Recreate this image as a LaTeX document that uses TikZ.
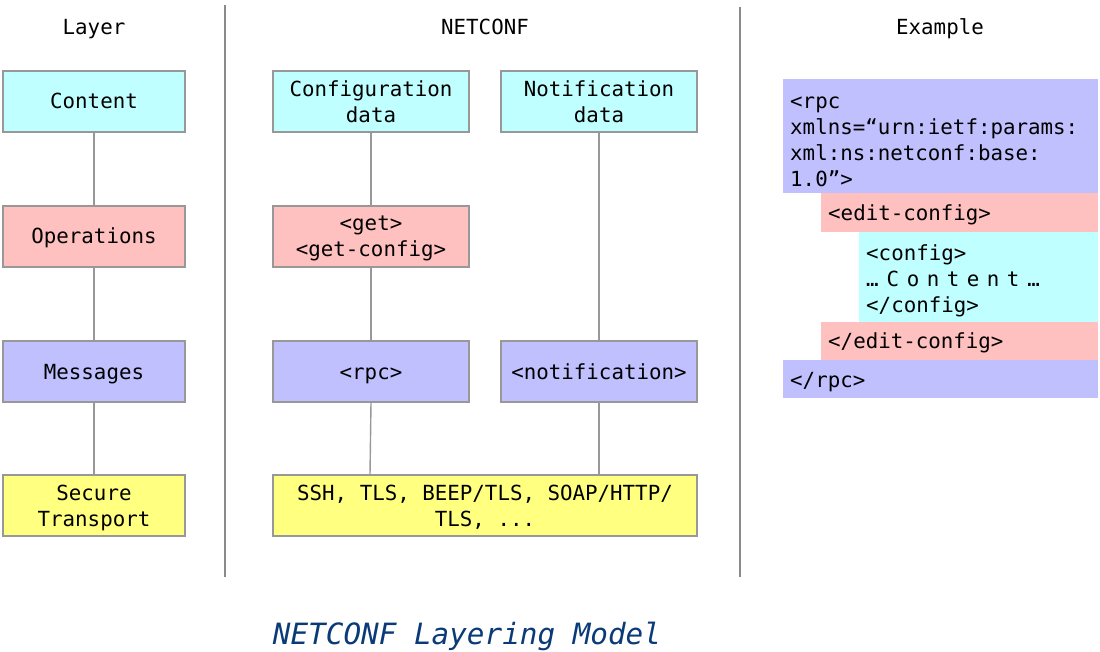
\documentclass[tikz,border=0pt]{standalone}
\usepackage{fontspec}
\setmainfont{DejaVu Sans Mono}
\definecolor{cyanfill}{HTML}{C0FFFF}
\definecolor{pinkfill}{HTML}{FFC0C0}
\definecolor{purplefill}{HTML}{C0C0FF}
\definecolor{yellowfill}{HTML}{FFFF80}
\definecolor{boxline}{HTML}{989898}
\definecolor{sepline}{HTML}{8A8A8A}
\definecolor{titleblue}{HTML}{0A3A78}
\newcommand{\nodepth}[1]{\raisebox{0pt}[\height][0pt]{#1}}
\begin{document}
\begin{tikzpicture}[x=1pt,y=-1pt,
  txt/.style={font=\fontsize{20.8}{26}\selectfont, text=black},
  one/.style={text height=15pt, text depth=0pt},
  layerbox/.style={txt, draw=boxline, line width=1.4pt, inner sep=0pt, align=center, minimum height=61pt},
  smallbox/.style={layerbox, minimum width=182pt},
  midbox/.style={layerbox, minimum width=196pt},
  exbox/.style={txt, inner xsep=7pt, inner ysep=0pt, align=left, anchor=north west},
  conn/.style={draw=boxline, line width=1.4pt},
  sep/.style={draw=sepline, line width=2.5pt}
]
\useasboundingbox (0,0) rectangle (1100,652);

% headers
\node[txt, one] (hlayer) at (94,27) {Layer};
\node[txt, one] (hnet) at (485,27) {NETCONF};
\node[txt, one] (hex) at (940,27) {Example};

% separators
\draw[sep] (225,5) -- (225,577);
\draw[sep] (740,7) -- (740,577);

% left column
\node[smallbox, one, fill=cyanfill] (content) at (94,101.5) {Content};
\node[smallbox, one, fill=pinkfill] (ops) at (94,236.5) {Operations};
\node[smallbox, one, fill=purplefill] (msg) at (94,371.5) {Messages};
\node[smallbox, fill=yellowfill] (sec) at (94,505.5) {Secure\\\nodepth{Transport}};

\draw[conn] (content.south) -- (ops.north);
\draw[conn] (ops.south) -- (msg.north);
\draw[conn] (msg.south) -- (sec.north);

% middle column
\node[midbox, fill=cyanfill] (cfg) at (371,101.5) {Configuration\\data};
\node[midbox, fill=cyanfill] (notdata) at (599,101.5) {Notification\\data};
\node[midbox, fill=pinkfill] (get) at (371,236.5) {<get>\\\nodepth{<get-config>}};
\node[midbox, one, fill=purplefill] (rpc) at (371,371.5) {<rpc>};
\node[midbox, one, fill=purplefill] (notif) at (599,371.5) {<notification>};
\node[layerbox, fill=yellowfill, minimum width=424pt] (ssh) at (485,505.5) {SSH, TLS, BEEP/TLS, SOAP/HTTP/\\\nodepth{TLS, ...}};

\draw[conn] (cfg.south) -- (get.north);
\draw[conn] (get.south) -- (rpc.north);
\draw[conn] (rpc.south) -- ([xshift=-1pt]rpc.south |- ssh.north);
\draw[conn] (notdata.south) -- (notif.north);
\draw[conn] (notif.south) -- (notif.south |- ssh.north);

% example
\fill[purplefill] (783,79) rectangle (1098,193);
\fill[pinkfill] (821,193) rectangle (1098,232);
\fill[cyanfill] (859,232) rectangle (1098,322);
\fill[pinkfill] (821,322) rectangle (1098,360);
\fill[purplefill] (783,360) rectangle (1098,398);

\node[exbox] (exrpc) at (783,97) {<rpc\\xmlns=“urn:ietf:params:\\xml:ns:netconf:base:\\1.0”>};
\node[exbox, anchor=west] (exedit) at (821,215) {<edit-config>};
\node[exbox] (excfg) at (859,244) {<config>\\…\hspace{8pt}C\hspace{7.5pt}o\hspace{7.5pt}n\hspace{7.5pt}t\hspace{7.5pt}e\hspace{7.5pt}n\hspace{7.5pt}t\hspace{8pt}…\\</config>};
\node[exbox, anchor=west] (exedit2) at (821,343) {</edit-config>};
\node[exbox, anchor=west] (exrpc2) at (783,382) {</rpc>};

% title
\node[font=\fontsize{29.3}{34}\selectfont\itshape, text=titleblue] (title) at (467,636) {NETCONF Layering Model};
\end{tikzpicture}
\end{document}
